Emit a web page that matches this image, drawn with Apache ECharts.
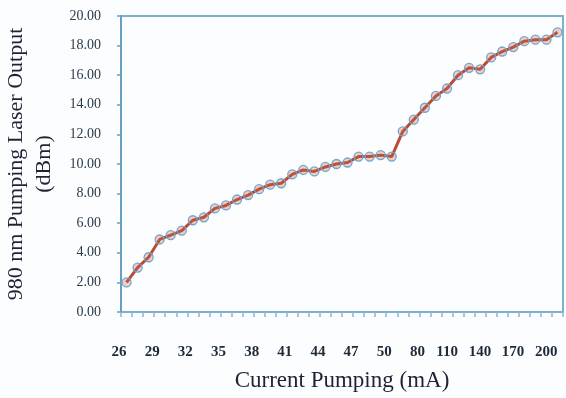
<!DOCTYPE html>
<html><head><meta charset="utf-8">
<script src="https://cdn.jsdelivr.net/npm/echarts@6/dist/echarts.min.js"></script>
<style>html,body{margin:0;padding:0;background:#fcfdff;}#c{width:566px;height:398px;}</style>
</head><body><div id="c"></div>
<script>
const categories = ['26','27','28','29','30','31','32','33','34','35','36','37','38','39','40','41','42','43','44','45','46','47','48','49','50',
  '60','70','80','90','100','110','120','130','140','150','160','170','180','190','200'];
const outputDbm = [2.0,3.0,3.7,4.9,5.2,5.5,6.2,6.4,7.0,7.2,7.6,7.9,8.3,8.6,8.7,9.3,9.6,9.5,9.8,10.0,10.1,10.5,10.5,10.6,10.5,
  12.2,13.0,13.8,14.6,15.1,16.0,16.5,16.4,17.2,17.6,17.9,18.3,18.4,18.4,18.9];
const yTicks = {min:0, max:20, interval:2};

const chart = echarts.init(document.getElementById('c'));
chart.setOption({
  backgroundColor:'#fcfdff',
  animation:false,
  grid:{left:121,right:3,top:16,bottom:86,containLabel:false,outerBoundsMode:'none',show:true,borderColor:'#7fb0cf',borderWidth:2,backgroundColor:'transparent'},
  xAxis:{
    type:'category', data:categories, boundaryGap:true,
    name:'Current Pumping (mA)', nameLocation:'middle', nameGap:57,
    nameTextStyle:{fontFamily:'Liberation Serif',fontSize:23,color:'#1c2333'},
    axisLine:{show:true,lineStyle:{color:'rgba(0,0,0,0)'}},
    axisTick:{show:true,interval:0,length:5,lineStyle:{color:'#8ab8d6',width:1.5}},
    axisLabel:{interval:2,align:'right',margin:33,fontFamily:'Liberation Serif',fontSize:15,fontWeight:'bold',color:'#1c2a3a'}
  },
  yAxis:{
    type:'value', min:yTicks.min, max:yTicks.max, interval:yTicks.interval,
    name:'980 nm Pumping Laser Output\n(dBm)', nameLocation:'middle', nameGap:57,
    nameTextStyle:{fontFamily:'Liberation Serif',fontSize:22,color:'#1c2333',lineHeight:28},
    splitLine:{show:false},
    axisLine:{show:true,lineStyle:{color:'#6a9fc2',width:2}},
    axisTick:{show:true,length:4,lineStyle:{color:'#6a9fc2',width:1.5}},
    axisLabel:{margin:20,fontFamily:'Liberation Serif',fontSize:14,color:'#2a3a4a',formatter:v=>v.toFixed(2)}
  },
  series:[{
    type:'line', data:outputDbm,
    symbol:'circle', symbolSize:9, showSymbol:true, showAllSymbol:true,
    lineStyle:{color:'#b94c36',width:3},
    itemStyle:{color:'rgba(200,95,70,0.3)',borderColor:'#6ea6d2',borderWidth:1.3},
    z:3
  }]
});
</script></body></html>
